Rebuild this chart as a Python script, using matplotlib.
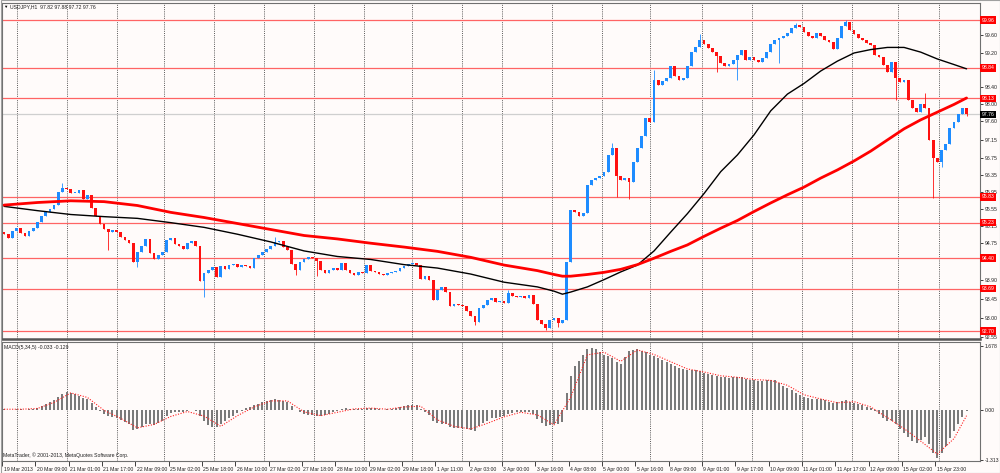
import matplotlib
matplotlib.use('Agg')
import matplotlib.pyplot as plt
import matplotlib.transforms as mtransforms
from matplotlib.patches import Rectangle

plt.rcParams['font.family'] = ['Liberation Sans', 'DejaVu Sans']

# ---------------- data ----------------
chart_title = "USDJPY,H1  97.82 97.88 97.72 97.76"
macd_title = "MACD(5,34,5) -0.033 -0.129"
footer = "MetaTrader, \u00a9 2001-2013, MetaQuotes Software Corp."

first_open = 95.00
closes = [
    94.96, 94.87, 95.03, 95.10, 94.99, 94.92, 95.03, 95.10, 95.24, 95.38,
    95.48, 95.55, 95.64, 95.95, 96.04, 96.02, 95.92, 95.92, 95.99, 95.78,
    95.88, 95.57, 95.38, 95.20, 95.08, 95.01, 95.06, 95.01, 94.89, 94.82,
    94.75, 94.31, 94.54, 94.68, 94.85, 94.52, 94.38, 94.47, 94.54, 94.82,
    94.87, 94.73, 94.68, 94.61, 94.75, 94.80, 94.68, 93.87, 94.05, 94.12,
    94.19, 93.96, 94.22, 94.15, 94.24, 94.26, 94.19, 94.24, 94.22, 94.17,
    94.40, 94.47, 94.54, 94.61, 94.68, 94.78, 94.80, 94.66, 94.59, 94.26,
    94.12, 94.31, 94.38, 94.43, 94.40, 94.33, 94.12, 94.05, 94.12, 94.17,
    94.12, 94.29, 94.12, 94.05, 94.01, 94.08, 94.05, 94.24, 94.10, 94.08,
    94.03, 94.01, 94.05, 94.08, 94.10, 94.17, 94.22, 94.26, 94.29, 94.24,
    93.91, 93.98, 93.89, 93.42, 93.66, 93.73, 93.61, 93.28, 93.33, 93.31,
    93.28, 93.17, 93.05, 92.91, 93.24, 93.31, 93.42, 93.47, 93.38, 93.40,
    93.35, 93.59, 93.52, 93.49, 93.52, 93.47, 93.54, 93.33, 92.96, 92.86,
    92.77, 92.96, 93.00, 92.89, 92.96, 94.31, 95.52, 95.48, 95.38, 95.46,
    96.11, 96.23, 96.27, 96.32, 96.41, 96.81, 96.97, 96.32, 96.23, 96.27,
    96.18, 96.65, 96.97, 97.25, 97.67, 97.58, 98.56, 98.44, 98.54, 98.61,
    98.89, 98.65, 98.56, 98.61, 98.89, 99.21, 99.33, 99.49, 99.40, 99.31,
    99.21, 99.12, 98.96, 98.89, 98.93, 99.03, 99.14, 99.26, 99.03, 99.10,
    99.03, 98.98, 99.07, 99.21, 99.40, 99.49, 99.54, 99.59, 99.66, 99.77,
    99.84, 99.80, 99.68, 99.59, 99.54, 99.66, 99.59, 99.49, 99.45, 99.28,
    99.54, 99.82, 99.91, 99.73, 99.63, 99.54, 99.49, 99.42, 99.38, 99.14,
    99.10, 98.91, 98.75, 98.98, 98.61, 98.51, 98.56, 98.09, 97.91, 97.81,
    98.00, 97.91, 97.16, 96.74, 96.65, 96.93, 97.07, 97.44, 97.58, 97.77,
    97.91, 97.76,
]
wick_high = {14: 96.16, 65: 94.90, 121: 93.66, 146: 97.10, 156: 98.79,
             167: 99.64, 190: 99.88, 202: 99.97, 221: 98.25, 231: 97.88}
wick_low = {25: 94.60, 32: 94.19, 48: 93.49, 70: 94.01, 75: 93.98,
            113: 92.84, 130: 92.72, 133: 92.80, 147: 95.83, 150: 95.78,
            171: 98.75, 176: 98.56, 186: 98.96, 214: 98.09, 223: 95.81,
            225: 96.53, 231: 97.72}

ma_idx = list(range(0, 129, 8)) + [132, 134] + list(range(136, 229, 4)) + [231]
ma_red = [95.64, 95.70, 95.74, 95.72, 95.63, 95.47, 95.35, 95.21, 95.07, 94.93,
          94.85, 94.75, 94.66, 94.56, 94.42, 94.24, 94.11,
          94.02, 93.98,
          93.98, 94.02, 94.07, 94.14, 94.25, 94.40, 94.56, 94.71, 94.91, 95.10,
          95.28, 95.49, 95.69, 95.88, 96.06, 96.27, 96.46, 96.67, 96.90, 97.16,
          97.42, 97.63, 97.81, 97.99,
          98.14]
ma_black = [95.61, 95.51, 95.42, 95.37, 95.33, 95.23, 95.12, 94.96, 94.78, 94.57,
            94.44, 94.37, 94.25, 94.17, 94.03, 93.84, 93.73,
            93.63, 93.56,
            93.61, 93.73, 93.90, 94.08, 94.24, 94.57, 95.01, 95.44, 95.91, 96.42,
            96.81, 97.28, 97.84, 98.23, 98.48, 98.77, 99.00, 99.19, 99.27, 99.32,
            99.32, 99.21, 99.05, 98.92,
            98.82]

hline_levels = [99.96, 98.84, 98.13, 95.83, 95.23, 94.40, 93.69, 92.70]
bid_price = 97.76
price_ticks = [99.60, 99.20, 98.40, 98.00, 97.60, 97.15, 96.75, 96.35, 95.95,
               95.55, 95.15, 94.75, 93.90, 93.45, 93.00, 92.55]

macd_hist = [
    0.02, 0.00, 0.01, 0.02, 0.02, 0.01, 0.02, 0.03, 0.06, 0.10,
    0.15, 0.20, 0.25, 0.35, 0.43, 0.47, 0.45, 0.42, 0.38, 0.32,
    0.28, 0.18, 0.08, -0.02, -0.10, -0.15, -0.18, -0.22, -0.27, -0.32,
    -0.38, -0.52, -0.50, -0.44, -0.36, -0.38, -0.40, -0.35, -0.28, -0.15,
    -0.08, -0.06, -0.05, -0.05, -0.02, 0.00, -0.02, -0.15, -0.30, -0.40,
    -0.45, -0.45, -0.38, -0.30, -0.22, -0.15, -0.08, -0.02, 0.04, 0.08,
    0.12, 0.16, 0.20, 0.24, 0.27, 0.28, 0.27, 0.24, 0.20, 0.10,
    0.00, -0.06, -0.10, -0.12, -0.14, -0.15, -0.16, -0.14, -0.10, -0.06,
    -0.02, 0.03, 0.04, 0.03, 0.02, 0.02, 0.03, 0.06, 0.05, 0.04,
    0.02, 0.01, 0.02, 0.03, 0.05, 0.08, 0.11, 0.13, 0.14, 0.12,
    0.02, -0.05, -0.12, -0.30, -0.35, -0.36, -0.38, -0.45, -0.47, -0.48,
    -0.48, -0.50, -0.52, -0.55, -0.42, -0.35, -0.28, -0.22, -0.20, -0.18,
    -0.16, -0.10, -0.08, -0.06, -0.05, -0.05, -0.05, -0.10, -0.25, -0.35,
    -0.42, -0.40, -0.36, -0.36, -0.32, 0.45, 0.90, 1.15, 1.30, 1.45,
    1.60, 1.64, 1.60, 1.52, 1.45, 1.42, 1.38, 1.25, 1.20, 1.40,
    1.55, 1.58, 1.60, 1.56, 1.52, 1.45, 1.42, 1.38, 1.32, 1.26,
    1.22, 1.15, 1.10, 1.08, 1.06, 1.05, 1.04, 1.02, 0.98, 0.95,
    0.92, 0.90, 0.88, 0.86, 0.85, 0.86, 0.87, 0.86, 0.82, 0.80,
    0.78, 0.76, 0.76, 0.78, 0.80, 0.78, 0.72, 0.64, 0.58, 0.52,
    0.45, 0.40, 0.35, 0.32, 0.30, 0.30, 0.28, 0.26, 0.22, 0.18,
    0.20, 0.24, 0.26, 0.22, 0.18, 0.15, 0.12, 0.08, 0.05, -0.02,
    -0.10, -0.20, -0.28, -0.30, -0.38, -0.50, -0.60, -0.72, -0.82, -0.86,
    -0.78, -0.72, -0.90, -1.12, -1.25, -1.12, -0.95, -0.75, -0.55, -0.36,
    -0.18, -0.03,
]
sig_idx = list(range(0, 229, 4)) + [231]
macd_signal = [
    0.02, 0.02, 0.04, 0.20, 0.45, 0.33, -0.01, -0.22, -0.47, -0.38,
    -0.17, -0.04, -0.16, -0.43, -0.15, 0.08, 0.24, 0.24, -0.05, -0.15,
    -0.06, 0.03, 0.05, 0.02, 0.08, 0.10, -0.26, -0.43, -0.50, -0.35,
    -0.18, -0.06, -0.13, -0.39, 0.34, 1.45, 1.52, 1.28, 1.58, 1.46,
    1.27, 1.08, 1.00, 0.90, 0.86, 0.80, 0.78, 0.65, 0.40, 0.29,
    0.19, 0.22, 0.08, -0.20, -0.49, -0.82, -1.16, -0.75, -0.15,
]
macd_ticks = [1.678, 0.0, -1.313]
macd_tick_labels = ['1.678', '0.00', '-1.313']

# hourly bar positions
day_bounds = [7, 31, 55, 78, 102, 126, 150, 174, 197, 221, 240, 264, 288, 311,
              336, 360, 384, 408, 430, 450]
time_labels = ["19 Mar 2013", "20 Mar 09:00", "21 Mar 01:00", "21 Mar 17:00",
               "22 Mar 09:00", "25 Mar 02:00", "25 Mar 18:00", "26 Mar 10:00",
               "27 Mar 02:00", "27 Mar 18:00", "28 Mar 10:00", "29 Mar 02:00",
               "29 Mar 18:00", "1 Apr 11:00", "2 Apr 03:00", "3 Apr 00:00",
               "3 Apr 16:00", "4 Apr 08:00", "5 Apr 00:00", "5 Apr 16:00",
               "8 Apr 09:00", "9 Apr 01:00", "9 Apr 17:00", "10 Apr 09:00",
               "11 Apr 01:00", "11 Apr 17:00", "12 Apr 09:00", "15 Apr 02:00",
               "15 Apr 23:00"]
label_step = 16  # bars between time labels
candle_bars = 2  # each drawn candle spans two hourly bars

# ---------------- styling ----------------
BG = '#fffbfa'
UP = '#1e8cff'
DN = '#ff1010'
FS = 3.7
W, H = 1000, 473


def rect(x0, y0, x1, y1):
    return [x0 / W, 1 - y1 / H, (x1 - x0) / W, (y1 - y0) / H]


fig = plt.figure(figsize=(10, 4.73), dpi=100)
fig.patch.set_facecolor(BG)
ax = fig.add_axes(rect(2, 3, 980, 339))
axm = fig.add_axes(rect(2, 342, 980, 461))

xmax = 469.45
for a in (ax, axm):
    a.set_facecolor(BG)
    a.set_xlim(0, xmax)
    for s in a.spines.values():
        s.set_color('#707070')
        s.set_linewidth(0.8)
    for d in day_bounds:
        a.axvline(d, color='#444444', lw=0.6, ls=(0, (1.2, 1.4)), zorder=1)

ax.set_ylim(92.514, 100.357)
ax.spines['bottom'].set_linewidth(1.8)
ax.spines['bottom'].set_color('#555555')

# horizontal levels
for lv in hline_levels:
    ax.axhline(lv, color='#ff6464', lw=0.9, zorder=2)
ax.axhline(bid_price, color='#cfcfcf', lw=0.9, zorder=2)

# candles
n = len(closes)
xs = [candle_bars * j + 1 for j in range(n)]
opens = [first_open] + closes[:-1]
highs, lows, cols, bottoms, heights = [], [], [], [], []
for j in range(n):
    o, c = opens[j], closes[j]
    hi = max(o, c, wick_high.get(j, max(o, c)))
    lo = min(o, c, wick_low.get(j, min(o, c)))
    highs.append(hi)
    lows.append(lo)
    cols.append(UP if c >= o else DN)
    bottoms.append(min(o, c))
    heights.append(max(abs(c - o), 0.015))
ax.vlines(xs, lows, highs, colors=cols, lw=0.6, zorder=3)
ax.bar(xs, heights, bottom=bottoms, width=1.35, color=cols, linewidth=0, zorder=4)

# moving averages
ma_x = [candle_bars * j + 1 for j in ma_idx]
ax.plot(ma_x, ma_black, color='black', lw=1.0, zorder=5, solid_capstyle='round',
        solid_joinstyle='round')
ax.plot(ma_x, ma_red, color='#ff0000', lw=2.0, zorder=6, solid_capstyle='round',
        solid_joinstyle='round')

# right price axis
ax.yaxis.tick_right()
ax.set_yticks(price_ticks)
ax.set_yticklabels([f'{v:.2f}' for v in price_ticks])
ax.tick_params(axis='y', length=2.5, width=0.6, pad=1.2, labelsize=FS,
               colors='#202020')
ax.tick_params(axis='x', bottom=False, labelbottom=False)

ytr = ax.get_yaxis_transform()
for lv in hline_levels:
    ax.text(1.0015, lv, f'{lv:.2f}', transform=ytr, fontsize=FS, color='white',
            va='center', ha='left', zorder=10, clip_on=False,
            bbox=dict(facecolor='#ff0000', edgecolor='none', pad=0.9))
ax.text(1.0015, bid_price, f'{bid_price:.2f}', transform=ytr, fontsize=FS,
        color='white', va='center', ha='left', zorder=10, clip_on=False,
        bbox=dict(facecolor='#000000', edgecolor='none', pad=0.9))

# MACD panel
axm.set_ylim(-1.342, 1.789)
axm.bar(xs, macd_hist, width=1.0, color='#7a7a7a', linewidth=0, zorder=3)
sig_x = [candle_bars * j + 1 for j in sig_idx]
axm.plot(sig_x, macd_signal, color='#ff2020', lw=0.8, ls=(0, (1.0, 1.4)), zorder=4)
axm.yaxis.tick_right()
axm.set_yticks(macd_ticks)
axm.set_yticklabels(macd_tick_labels)
axm.tick_params(axis='y', length=2.5, width=0.6, pad=1.2, labelsize=FS,
                colors='#202020')

tpos = [label_step * k for k in range(len(time_labels))]
axm.set_xticks(tpos)
axm.set_xticklabels(time_labels)
axm.tick_params(axis='x', length=3.5, width=0.6, pad=0.6, labelsize=FS,
                colors='#202020', direction='out')
off = mtransforms.ScaledTranslation(1.5 / 100, 0, fig.dpi_scale_trans)
for lab in axm.get_xticklabels():
    lab.set_ha('left')
    lab.set_transform(lab.get_transform() + off)

# texts
fig.text(3 / W, 1 - 6.5 / H, '\u25bc', fontsize=3.2, color='black', va='center')
fig.text(10 / W, 1 - 6.5 / H, chart_title, fontsize=FS, color='#202020', va='center')
fig.text(4 / W, 1 - 347 / H, macd_title, fontsize=FS, color='#202020', va='center')
fig.text(3 / W, 1 - 455.5 / H, footer, fontsize=FS, color='#202020', va='center')

# outer frame
fig.add_artist(Rectangle((0.0005, 0.001), 0.999, 0.998, transform=fig.transFigure,
                         fill=False, edgecolor='#a0a0a0', lw=0.8))

fig.savefig('out.png', dpi=100, facecolor=BG)
